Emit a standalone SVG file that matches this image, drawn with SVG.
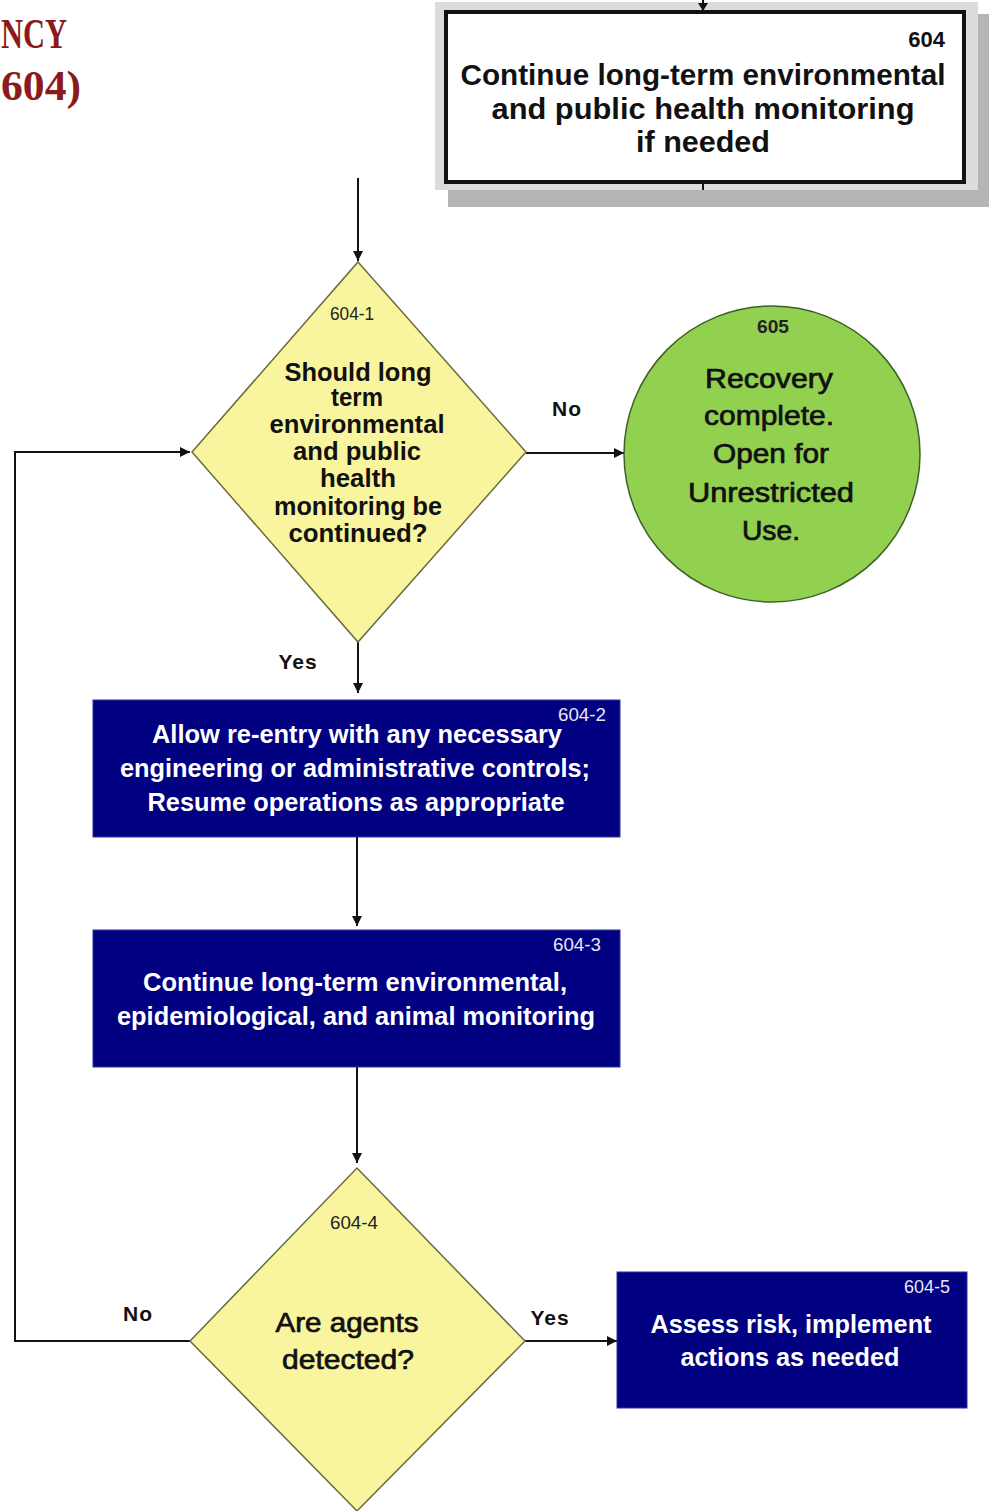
<svg xmlns="http://www.w3.org/2000/svg" width="989" height="1511" viewBox="0 0 989 1511">
  <style>
    .title { font-family: "Liberation Serif", serif; font-weight: bold; font-size: 42px; fill: #8B1A1A; }
    .hdr { font-family: "Liberation Sans", Arial, sans-serif; font-weight: bold; font-size: 29px; fill: #111; text-anchor: middle; }
    .hdrnum { font-family: "Liberation Sans", Arial, sans-serif; font-weight: bold; font-size: 22px; fill: #111; text-anchor: end; }
    .num { font-family: "Liberation Sans Narrow", "Liberation Sans", sans-serif; font-size: 19px; }
    .dark { fill: #222; }
    .light { fill: #E8E8F0; }
    .body { font-family: "Liberation Sans Narrow", "Liberation Sans", sans-serif; font-weight: bold; text-anchor: middle; }
    .on-yellow { fill: #111; font-size: 25px; }
    .medium { fill: #111; font-size: 27px; font-weight: normal; stroke: #111; stroke-width: 0.7; }
    .on-navy { fill: #FFFFFF; font-size: 26px; }
    .lbl { font-family: "Liberation Sans Narrow", "Liberation Sans", sans-serif; font-weight: bold; font-size: 21px; fill: #111; text-anchor: middle; letter-spacing: 1px; }
    .diamond { fill: #F9F59E; stroke: #6B6B40; stroke-width: 1.5; }
    .navy { fill: #000080; stroke: #3030A0; stroke-width: 1; }
    .wire { fill: none; stroke: #111; stroke-width: 2; }
  </style>
  <defs>
    <marker id="arrow" viewBox="0 0 10 10" refX="10" refY="5" markerWidth="10" markerHeight="10" markerUnits="userSpaceOnUse" orient="auto">
      <path d="M0,0 L10,5 L0,10 Z" fill="#111"/>
    </marker>
  </defs>

  <rect width="989" height="1511" fill="#FFFFFF"/>

  <!-- page heading, running off the left edge -->
  <g id="heading">
    <text class="title" x="1" y="48" textLength="66" lengthAdjust="spacingAndGlyphs">NCY</text>
    <text class="title" x="1" y="100" textLength="80" lengthAdjust="spacingAndGlyphs">604)</text>
  </g>

  <!-- 604: parent step -->
  <g id="n604">
    <rect x="448" y="14" width="541" height="193" fill="#B5B5B5"/>
    <rect x="435" y="2" width="543" height="188" fill="#DCDCDC"/>
    <rect x="446" y="12" width="518" height="170" fill="#FFFFFF" stroke="#111" stroke-width="4"/>
    <line x1="703" y1="0" x2="703" y2="10" stroke="#111" stroke-width="2"/>
    <path d="M698,3 L708,3 L703,11 Z" fill="#111"/>
    <line x1="703" y1="182" x2="703" y2="190" stroke="#111" stroke-width="2"/>
    <text class="hdrnum" x="945" y="47">604</text>
    <text class="hdr" x="703" y="85" textLength="485" lengthAdjust="spacingAndGlyphs">Continue long-term environmental</text>
    <text class="hdr" x="703" y="119" textLength="423" lengthAdjust="spacingAndGlyphs">and public health monitoring</text>
    <text class="hdr" x="703" y="152" textLength="134" lengthAdjust="spacingAndGlyphs">if needed</text>
  </g>

  <!-- connectors -->
  <g id="connectors">
    <line class="wire" x1="358" y1="178" x2="358" y2="261" marker-end="url(#arrow)"/>
    <line class="wire" x1="526" y1="453" x2="624" y2="453" marker-end="url(#arrow)"/>
    <line class="wire" x1="358" y1="642" x2="358" y2="693" marker-end="url(#arrow)"/>
    <line class="wire" x1="357" y1="837" x2="357" y2="926" marker-end="url(#arrow)"/>
    <line class="wire" x1="357" y1="1067" x2="357" y2="1163" marker-end="url(#arrow)"/>
    <polyline class="wire" points="190,1341 15,1341 15,452 190,452" marker-end="url(#arrow)"/>
    <line class="wire" x1="525" y1="1341" x2="617" y2="1341" marker-end="url(#arrow)"/>
    <text class="lbl" x="567" y="416">No</text>
    <text class="lbl" x="298" y="669">Yes</text>
    <text class="lbl" x="138" y="1321">No</text>
    <text class="lbl" x="550" y="1325">Yes</text>
  </g>

  <!-- 604-1: decision -->
  <g id="n604-1">
    <polygon class="diamond" points="358,262 526,452 358,642 192,452"/>
    <text class="num dark" x="352" y="320" text-anchor="middle" textLength="44" lengthAdjust="spacingAndGlyphs">604-1</text>
    <text class="body on-yellow" x="358" y="381" textLength="147" lengthAdjust="spacingAndGlyphs">Should long</text>
    <text class="body on-yellow" x="357" y="406" textLength="52" lengthAdjust="spacingAndGlyphs">term</text>
    <text class="body on-yellow" x="357" y="433" textLength="175" lengthAdjust="spacingAndGlyphs">environmental</text>
    <text class="body on-yellow" x="357" y="460" textLength="128" lengthAdjust="spacingAndGlyphs">and public</text>
    <text class="body on-yellow" x="358" y="487" textLength="76" lengthAdjust="spacingAndGlyphs">health</text>
    <text class="body on-yellow" x="358" y="515" textLength="168" lengthAdjust="spacingAndGlyphs">monitoring be</text>
    <text class="body on-yellow" x="358" y="542" textLength="139" lengthAdjust="spacingAndGlyphs">continued?</text>
  </g>

  <!-- 605: end state -->
  <g id="n605">
    <circle cx="772" cy="454" r="148" fill="#92D050" stroke="#3F5F2A" stroke-width="1.5"/>
    <text class="num dark" x="773" y="333" text-anchor="middle" font-weight="bold" textLength="32" lengthAdjust="spacingAndGlyphs">605</text>
    <text class="body medium" x="769" y="388" textLength="128" lengthAdjust="spacingAndGlyphs">Recovery</text>
    <text class="body medium" x="769" y="425" textLength="130" lengthAdjust="spacingAndGlyphs">complete.</text>
    <text class="body medium" x="771" y="463" textLength="116" lengthAdjust="spacingAndGlyphs">Open for</text>
    <text class="body medium" x="771" y="502" textLength="166" lengthAdjust="spacingAndGlyphs">Unrestricted</text>
    <text class="body medium" x="771" y="540" textLength="58" lengthAdjust="spacingAndGlyphs">Use.</text>
  </g>

  <!-- 604-2 -->
  <g id="n604-2">
    <rect class="navy" x="93" y="700" width="527" height="137"/>
    <text class="num light" x="606" y="721" text-anchor="end" textLength="48" lengthAdjust="spacingAndGlyphs">604-2</text>
    <text class="body on-navy" x="357" y="743" textLength="410" lengthAdjust="spacingAndGlyphs">Allow re-entry with any necessary</text>
    <text class="body on-navy" x="355" y="777" textLength="470" lengthAdjust="spacingAndGlyphs">engineering or administrative controls;</text>
    <text class="body on-navy" x="356" y="811" textLength="417" lengthAdjust="spacingAndGlyphs">Resume operations as appropriate</text>
  </g>

  <!-- 604-3 -->
  <g id="n604-3">
    <rect class="navy" x="93" y="930" width="527" height="137"/>
    <text class="num light" x="601" y="951" text-anchor="end" textLength="48" lengthAdjust="spacingAndGlyphs">604-3</text>
    <text class="body on-navy" x="355" y="991" textLength="424" lengthAdjust="spacingAndGlyphs">Continue long-term environmental,</text>
    <text class="body on-navy" x="356" y="1025" textLength="478" lengthAdjust="spacingAndGlyphs">epidemiological, and animal monitoring</text>
  </g>

  <!-- 604-4: decision -->
  <g id="n604-4">
    <polygon class="diamond" points="357,1168 525,1341 357,1511 190,1341"/>
    <text class="num dark" x="354" y="1229" text-anchor="middle" textLength="48" lengthAdjust="spacingAndGlyphs">604-4</text>
    <text class="body medium" x="347" y="1332" font-size="29" textLength="143" lengthAdjust="spacingAndGlyphs">Are agents</text>
    <text class="body medium" x="348" y="1369" font-size="29" textLength="132" lengthAdjust="spacingAndGlyphs">detected?</text>
  </g>

  <!-- 604-5 -->
  <g id="n604-5">
    <rect class="navy" x="617" y="1272" width="350" height="136"/>
    <text class="num light" x="950" y="1293" text-anchor="end" textLength="46" lengthAdjust="spacingAndGlyphs">604-5</text>
    <text class="body on-navy" x="791" y="1333" font-size="27" textLength="281" lengthAdjust="spacingAndGlyphs">Assess risk, implement</text>
    <text class="body on-navy" x="790" y="1366" font-size="27" textLength="219" lengthAdjust="spacingAndGlyphs">actions as needed</text>
  </g>
</svg>
